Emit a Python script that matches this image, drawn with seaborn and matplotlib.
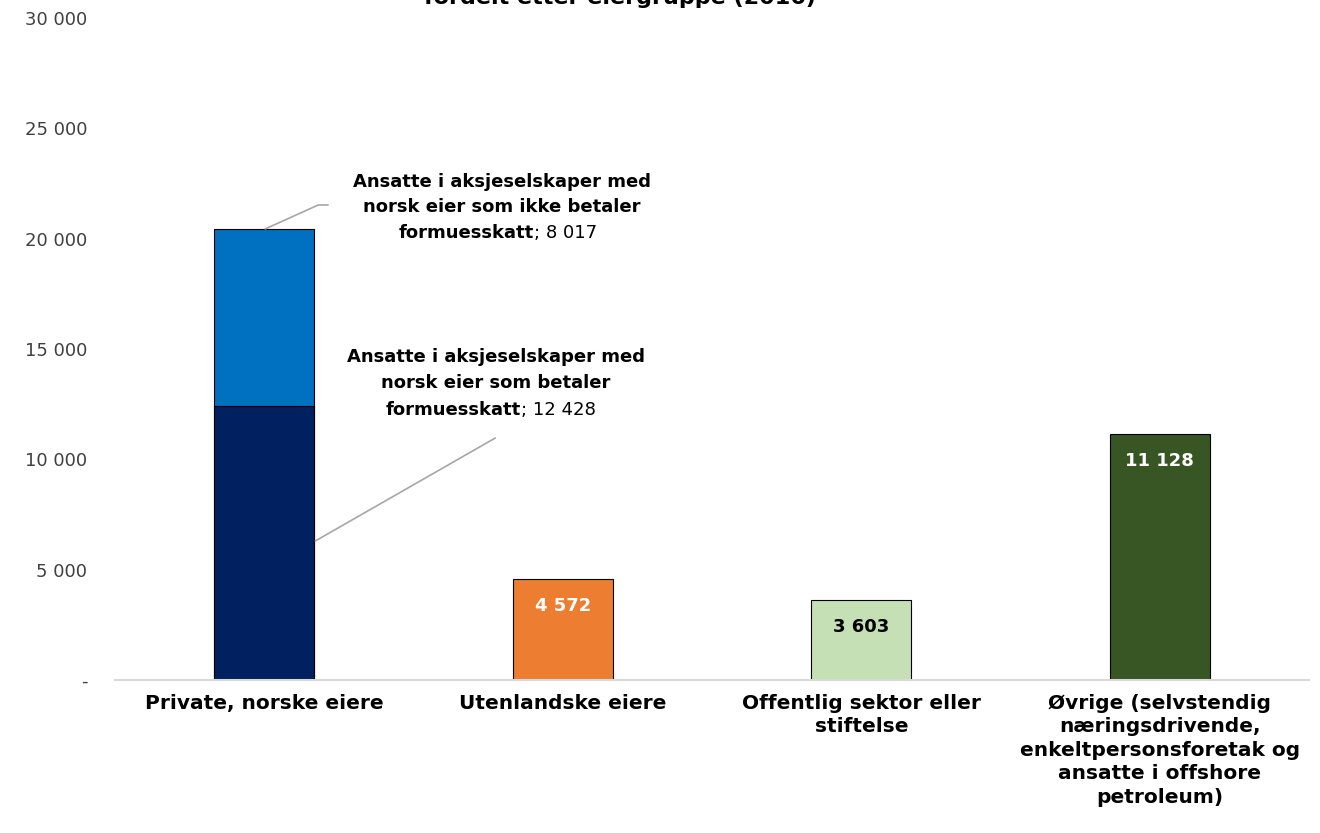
import matplotlib
matplotlib.use("Agg")
import matplotlib.pyplot as plt
import pandas as pd
import seaborn as sns

# Data
categories = [
    "Private, norske eiere",
    "Utenlandske eiere",
    "Offentlig sektor eller\nstiftelse",
    "Øvrige (selvstendig\nnæringsdrivende,\nenkeltpersonsforetak og\nansatte i offshore\npetroleum)",
]
pays_wealth_tax = 12428      # private owners paying wealth tax
no_wealth_tax = 8017         # private owners not paying wealth tax
other_values = [4572, 3603, 11128]
value_labels = ["4 572", "3 603", "11 128"]
yticks = [0, 5000, 10000, 15000, 20000, 25000, 30000]
ytick_labels = ["-", "5 000", "10 000", "15 000", "20 000", "25 000", "30 000"]

colors = ["#0070C0", "#ED7D31", "#C5E0B4", "#375623"]
navy = "#002060"

totals = [pays_wealth_tax + no_wealth_tax] + other_values
df = pd.DataFrame({"category": categories, "total": totals})

sns.set_style("white")
plt.rcParams["font.family"] = ["DejaVu Sans"]
plt.rcParams["text.color"] = "black"

fig = plt.figure(figsize=(13.2, 8.33), dpi=100)
ax = fig.add_axes([115 / 1320, 1 - 680 / 833, (1309 - 115) / 1320, (680 - 18) / 833])

sns.barplot(data=df, x="category", y="total", hue="category", palette=colors,
            legend=False, width=0.335, edgecolor="black", linewidth=0.8, ax=ax,
            saturation=1)
# lower segment of the stacked private bar
sns.barplot(x=[categories[0]], y=[pays_wealth_tax], color=navy, width=0.335,
            edgecolor="black", linewidth=0.8, ax=ax, saturation=1)

ax.set_xlim(-0.5, 3.5)
ax.set_ylim(0, 30000)
ax.set_yticks(yticks)
ax.set_yticklabels(ytick_labels)
ax.set_xlabel("")
ax.set_ylabel("")
ax.tick_params(axis="y", length=0, labelsize=13, labelcolor="#404040", pad=20)
ax.tick_params(axis="x", length=0, labelsize=14.5, pad=10, labelcolor="black")
for lbl in ax.get_xticklabels():
    lbl.set_fontweight("bold")
    lbl.set_linespacing(1.3)
for side in ["top", "right", "left"]:
    ax.spines[side].set_visible(False)
ax.spines["bottom"].set_color("#d9d9d9")
ax.spines["bottom"].set_linewidth(1.5)

# value labels inside the single bars
text_colors = ["white", "black", "white"]
for i, (v, lab, c) in enumerate(zip(other_values, value_labels, text_colors), start=1):
    ax.annotate(lab, xy=(i, v), xytext=(0, -19), textcoords="offset points",
                ha="center", va="center", fontsize=13, fontweight="bold", color=c)

# callouts for the stacked bar
lead = "#a6a6a6"
ax.plot([0.003, 0.181, 0.214], [20440, 21527, 21527], color=lead, lw=1.2)
ax.plot([0.171, 0.774], [6300, 10967], color=lead, lw=1.2)

fs = 13
ax.text(0.797, 22570, "Ansatte i aksjeselskaper med", ha="center", va="center",
        fontsize=fs, fontweight="bold")
ax.text(0.797, 21440, "norsk eier som ikke betaler", ha="center", va="center",
        fontsize=fs, fontweight="bold")
ax.text(0.904, 20260, "formuesskatt", ha="right", va="center", fontsize=fs, fontweight="bold")
ax.text(0.904, 20260, "; 8 017", ha="left", va="center", fontsize=fs)

ax.text(0.777, 14640, "Ansatte i aksjeselskaper med", ha="center", va="center",
        fontsize=fs, fontweight="bold")
ax.text(0.777, 13460, "norsk eier som betaler", ha="center", va="center",
        fontsize=fs, fontweight="bold")
ax.text(0.861, 12240, "formuesskatt", ha="right", va="center", fontsize=fs, fontweight="bold")
ax.text(0.861, 12240, "; 12 428", ha="left", va="center", fontsize=fs)

# title, clipped at the top edge as in the source
fig.text(620 / 1320, 1 - 4 / 833, "fordelt etter eiergruppe (2016)", ha="center",
         va="baseline", fontsize=16, fontweight="bold")

fig.savefig("out.png", dpi=100)
